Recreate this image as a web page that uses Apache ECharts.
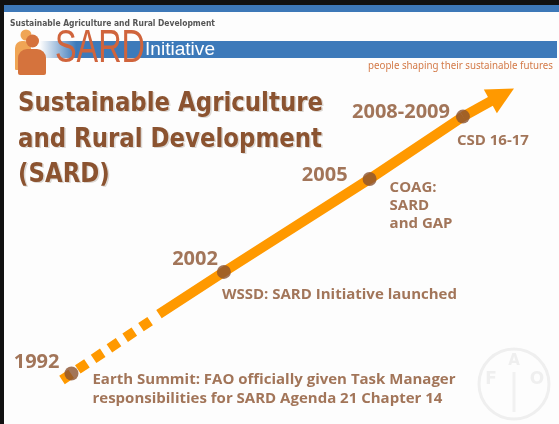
<!DOCTYPE html>
<html>
<head>
<meta charset="utf-8">
<title>SARD Initiative</title>
<script src="https://cdn.jsdelivr.net/npm/echarts@6/dist/echarts.min.js"></script>
<style>
html,body{margin:0;padding:0;background:#fdfdfd;}
#main{width:559px;height:424px;}
</style>
</head>
<body>
<div id="main"></div>
<script>
// milestones on the timeline
var years = ['1992', '2002', '2005', '2008-2009'];
var events = [
    'Earth Summit: FAO officially given Task Manager\nresponsibilities for SARD Agenda 21 Chapter 14',
    'WSSD: SARD Initiative launched',
    'COAG:\nSARD\nand GAP',
    'CSD 16-17'
];
// progress along the arrow (0..100 both ways)
var posX = [2.1, 35.9, 68.2, 88.9];
var posY = [2.2, 36.9, 68.6, 89.9];
var dashedPath = [[0, 0], [20.6, 21.2]];
var solidStart = [21.5, 22.5];
var arrowEnd = [97.6, 97.3];

var titleLines = ['Sustainable Agriculture', 'and Rural Development', '(SARD)'];
var headerText = 'Sustainable Agriculture and Rural Development';
var tagline = 'people shaping their sustainable futures';

// label layout (offset from dot centre)
var yearOffsets = [[-12, -11], [-6, -13], [-22, -4], [-13, -4]];
var eventOffsets = [[21, -3], [-2, 14], [20, 0], [-6, 15]];

var brown = '#8b5330';
var orange = '#ff9900';

function fitScale(text, font, width){
    var ctx = document.createElement('canvas').getContext('2d');
    ctx.font = font;
    return width / ctx.measureText(text).width;
}

var chart = echarts.init(document.getElementById('main'));

var titleFont = 'bold 26px "DejaVu Sans Condensed", "DejaVu Sans", sans-serif';
var titleScale = fitScale(titleLines[0], titleFont, 305);
var sardFont = '46px "Liberation Sans Narrow", "Liberation Sans", sans-serif';
var initFont = '19px "Liberation Sans Narrow", "Liberation Sans", sans-serif';
var headFont = 'bold 8px "DejaVu Sans", sans-serif';
var tagFont = '11px "Noto Sans", sans-serif';

var graphics = [
    { type: 'rect', shape: { x: 0, y: 0, width: 559, height: 5 }, style: { fill: '#111' } },
    { type: 'rect', shape: { x: 4, y: 5, width: 555, height: 7 }, style: { fill: '#3d78b8' } },
    { type: 'rect', shape: { x: 0, y: 0, width: 4, height: 424 }, style: { fill: '#111' } },
    { type: 'rect', shape: { x: 40, y: 41, width: 517, height: 17 },
      style: { fill: new echarts.graphic.LinearGradient(0, 0, 1, 0, [
          { offset: 0, color: 'rgba(61,122,186,0)' },
          { offset: 0.07, color: 'rgba(61,122,186,1)' },
          { offset: 1, color: 'rgba(61,122,186,1)' }
      ]) } },
    // logo people
    { type: 'circle', shape: { cx: 26, cy: 35, r: 5.5 }, style: { fill: '#f0a555' } },
    { type: 'rect', shape: { x: 15, y: 41, width: 16, height: 29, r: [7, 7, 1, 1] }, style: { fill: '#f0a555' } },
    { type: 'circle', shape: { cx: 32.5, cy: 41, r: 6.5 }, style: { fill: '#d5733d' } },
    { type: 'rect', shape: { x: 18, y: 49, width: 28, height: 26, r: [9, 9, 2, 2] }, style: { fill: '#d5733d' } },
    { type: 'text', x: 55, y: 72, scaleX: fitScale('SARD', sardFont, 90),
      style: { text: 'SARD', font: sardFont, fill: '#d0643c', textVerticalAlign: 'bottom' } },
    { type: 'text', x: 145, y: 59, scaleX: fitScale('Initiative', initFont, 70),
      style: { text: 'Initiative', font: initFont, fill: '#fff', textVerticalAlign: 'bottom' } },
    { type: 'text', x: 10, y: 24, scaleX: fitScale(headerText, headFont, 205),
      style: { text: headerText, font: headFont, fill: '#555', textVerticalAlign: 'middle' } },
    { type: 'text', x: 553, y: 66, scaleX: fitScale(tagline, tagFont, 185),
      style: { text: tagline, font: tagFont, fill: '#d37a48', textAlign: 'right', textVerticalAlign: 'middle' } },
    // FAO watermark
    { type: 'circle', shape: { cx: 514, cy: 384, r: 35 }, style: { fill: 'none', stroke: '#efefef', lineWidth: 3 } },
    { type: 'line', shape: { x1: 514, y1: 372, x2: 514, y2: 412 }, style: { stroke: '#f1f1f1', lineWidth: 3 } },
    { type: 'text', x: 491, y: 380, style: { text: 'F', font: 'bold 17px "DejaVu Sans"', fill: '#efefef', textAlign: 'center', textVerticalAlign: 'middle' } },
    { type: 'text', x: 514, y: 361, style: { text: 'A', font: 'bold 15px "DejaVu Sans"', fill: '#efefef', textAlign: 'center', textVerticalAlign: 'middle' } },
    { type: 'text', x: 537, y: 380, style: { text: 'O', font: 'bold 17px "DejaVu Sans"', fill: '#efefef', textAlign: 'center', textVerticalAlign: 'middle' } }
];

var titleTops = [91, 127, 162];
for (var i = 0; i < titleLines.length; i++) {
    graphics.push({ type: 'text', x: 19.5, y: titleTops[i] + 1.5, scaleX: titleScale,
        style: { text: titleLines[i], font: titleFont, fill: '#dcd8d4', textVerticalAlign: 'top' } });
    graphics.push({ type: 'text', x: 18, y: titleTops[i], scaleX: titleScale,
        style: { text: titleLines[i], font: titleFont, fill: brown, textVerticalAlign: 'top' } });
}

var dots = [], eventPts = [];
for (var k = 0; k < years.length; k++) {
    dots.push({
        value: [posX[k], posY[k]],
        name: years[k],
        label: { position: [yearOffsets[k][0] + 7, yearOffsets[k][1] + 7] }
    });
    eventPts.push({
        value: [posX[k], posY[k]],
        name: events[k],
        label: { position: [eventOffsets[k][0] + 7, eventOffsets[k][1] + 7],
                 lineHeight: k === 0 ? 19 : 18 }
    });
}
var solidPath = [solidStart];
for (var m = 1; m < posX.length; m++) {
    solidPath.push([posX[m], posY[m]]);
}

var option = {
    backgroundColor: '#fdfdfd',
    animation: false,
    graphic: { elements: graphics },
    grid: { left: 62, right: 46, top: 87, bottom: 44 },
    xAxis: { type: 'value', min: 0, max: 100, show: false },
    yAxis: { type: 'value', min: 0, max: 100, show: false },
    series: [
        {
            type: 'line',
            data: dashedPath,
            symbol: 'none',
            silent: true,
            lineStyle: { color: orange, width: 10, type: [11, 8], cap: 'butt' }
        },
        {
            type: 'line',
            data: solidPath,
            symbol: 'none',
            silent: true,
            lineStyle: { color: orange, width: 10 },
            markLine: {
                silent: true,
                symbol: ['none', 'triangle'],
                symbolSize: 27,
                label: { show: false },
                lineStyle: { color: orange, width: 10, type: 'solid' },
                itemStyle: { color: orange },
                data: [[{ coord: [posX[3], posY[3]] }, { coord: arrowEnd }]]
            }
        },
        {
            type: 'scatter',
            data: dots,
            symbolSize: 14,
            silent: true,
            z: 5,
            itemStyle: { color: brown },
            label: {
                show: true,
                formatter: '{b}',
                align: 'right',
                verticalAlign: 'middle',
                color: brown,
                fontFamily: 'Open Sans',
                fontWeight: 'bold',
                fontSize: 20,
                textShadowColor: 'rgba(0,0,0,0.12)',
                textShadowOffsetX: 1,
                textShadowOffsetY: 1
            }
        },
        {
            type: 'scatter',
            data: eventPts,
            symbolSize: 14,
            silent: true,
            z: 4,
            itemStyle: { color: 'rgba(0,0,0,0)' },
            label: {
                show: true,
                formatter: '{b}',
                align: 'left',
                verticalAlign: 'top',
                color: brown,
                fontFamily: 'Open Sans',
                fontWeight: 'bold',
                fontSize: 15,
                textShadowColor: 'rgba(0,0,0,0.1)',
                textShadowOffsetX: 1,
                textShadowOffsetY: 1
            }
        }
    ]
};
chart.setOption(option);
</script>
</body>
</html>
